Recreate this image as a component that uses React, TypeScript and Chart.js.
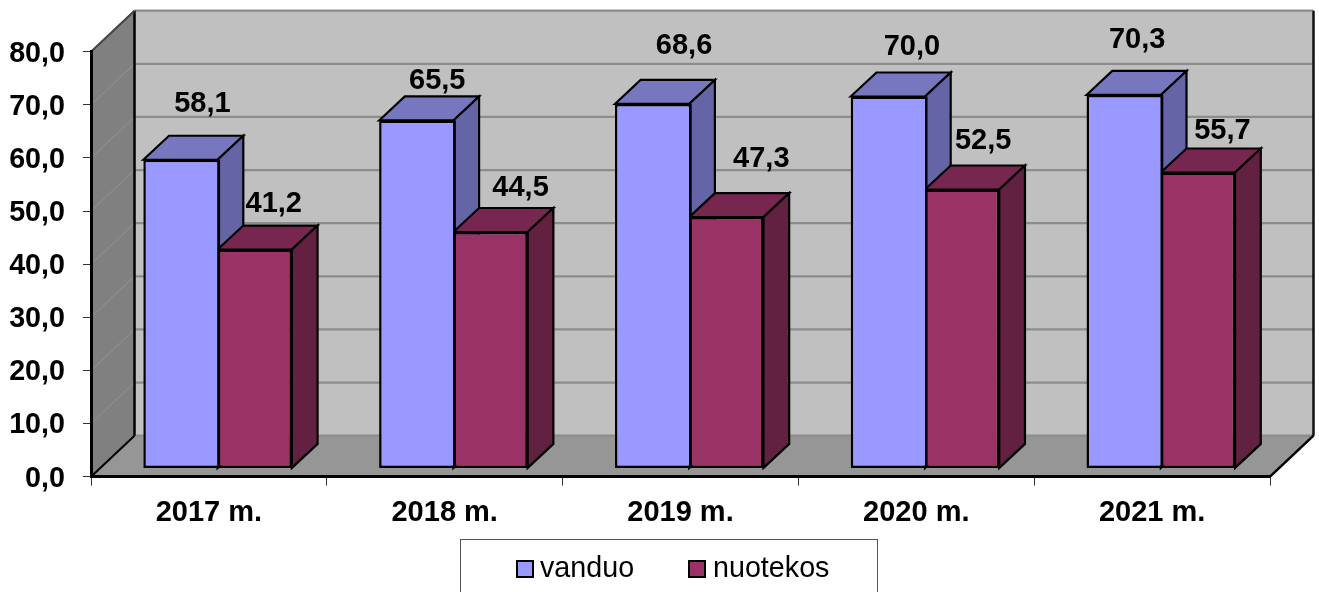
import React, { useEffect, useRef } from "react";
import { Chart, registerables } from "chart.js";

Chart.register(...registerables);

const categories = ["2017 m.", "2018 m.", "2019 m.", "2020 m.", "2021 m."];
const vanduo = [58.1, 65.5, 68.6, 70.0, 70.3];
const nuotekos = [41.2, 44.5, 47.3, 52.5, 55.7];
const seriesNames = ["vanduo", "nuotekos"];

// Hand placement of the value labels relative to the top of each bar's front face
const vanduoLabelShift = [[22, -56], [21, -39], [32, -58], [24, -50], [13.5, -55]];
const nuotekosLabelShift = [[19, -46], [30, -44], [35, -58], [21, -48], [24.5, -41]];

const FONT = '"Liberation Sans", Arial, sans-serif';
const WALL_DX = 43.5;
const WALL_DY = -41;
const BAR_SHIFT_X = 8.7;
const BAR_SHIFT_Y = -8.3;
const BAR_DX = 25.7;
const BAR_DY = -24;

const faceColors = [
  { front: "#9999FF", top: "#7777BF", side: "#6464A6" },
  { front: "#993366", top: "#77264F", side: "#632142" },
];

const fmt = (v: number) => v.toFixed(1).replace(".", ",");

function poly(ctx: CanvasRenderingContext2D, pts: number[][], fill?: string, stroke?: string, lw = 1) {
  ctx.beginPath();
  pts.forEach((p, i) => (i ? ctx.lineTo(p[0], p[1]) : ctx.moveTo(p[0], p[1])));
  if (fill) {
    ctx.closePath();
    ctx.fillStyle = fill;
    ctx.fill();
  }
  if (stroke) {
    ctx.strokeStyle = stroke;
    ctx.lineWidth = lw;
    ctx.lineJoin = "miter";
    ctx.stroke();
  }
}

function drawFaces(chart: any, index: number) {
  const { ctx } = chart;
  const colors = faceColors[index];
  for (const el of chart.getDatasetMeta(index).data) {
    const { x, y, base, width } = el.getProps(["x", "y", "base", "width"], true);
    const l = x - width / 2;
    const r = x + width / 2;
    poly(ctx, [[l, y], [l + BAR_DX, y + BAR_DY], [r + BAR_DX, y + BAR_DY], [r, y]], colors.top, "#000000", 2.2);
    poly(ctx, [[r, y], [r + BAR_DX, y + BAR_DY], [r + BAR_DX, base + BAR_DY], [r, base]], colors.side, "#000000", 2.2);
  }
}

const depthPlugin = {
  id: "depth",
  beforeDraw(chart: any) {
    const { ctx, chartArea: a, scales } = chart;
    const y = scales.y;
    const dx = WALL_DX;
    const dy = WALL_DY;
    ctx.save();
    ctx.fillStyle = "#ffffff";
    ctx.fillRect(0, 0, chart.width, chart.height);
    // back wall, side wall, floor
    poly(ctx, [[a.left + dx, a.top + dy], [a.right + dx, a.top + dy], [a.right + dx, a.bottom + dy], [a.left + dx, a.bottom + dy]], "#C0C0C0");
    poly(ctx, [[a.left, a.top], [a.left + dx, a.top + dy], [a.left + dx, a.bottom + dy], [a.left, a.bottom]], "#808080");
    poly(ctx, [[a.left, a.bottom], [a.left + dx, a.bottom + dy], [a.right + dx, a.bottom + dy], [a.right, a.bottom]], "#969696");
    // gridlines
    for (const t of y.ticks) {
      const p = y.getPixelForValue(t.value);
      if (t.value > 0) {
        poly(ctx, [[a.left, p], [a.left + dx, p + dy]], undefined, "#8B8B8B", 1.5);
      }
      poly(ctx, [[a.left + dx, p + dy], [a.right + dx, p + dy]], undefined, "#8C8C8C", 2.2);
    }
    // wall edges
    poly(ctx, [[a.left + dx, a.top + dy], [a.left + dx, a.bottom + dy]], undefined, "#000000", 2.5);
    poly(ctx, [[a.right + dx, a.top + dy], [a.right + dx, a.bottom + dy]], undefined, "#111111", 2.5);
    poly(ctx, [[a.left, a.top], [a.left + dx, a.top + dy]], undefined, "#444444", 2);
    poly(ctx, [[a.left, a.bottom], [a.left + dx, a.bottom + dy]], undefined, "#000000", 2);
    poly(ctx, [[a.right, a.bottom], [a.right + dx, a.bottom + dy]], undefined, "#000000", 2.5);
    ctx.restore();
  },
  // Chart.js paints the last dataset first: the second series goes down first,
  // with the first series' depth faces beneath it.
  beforeDatasetDraw(chart: any, args: any) {
    chart.ctx.save();
    chart.ctx.translate(BAR_SHIFT_X, BAR_SHIFT_Y);
    if (args.index === 1) drawFaces(chart, 0);
  },
  afterDatasetDraw(chart: any, args: any) {
    const { ctx } = chart;
    if (args.index === 1) drawFaces(chart, 1);
    if (args.index === 0) {
      for (const el of args.meta.data) {
        const { x, y, base, width } = el.getProps(["x", "y", "base", "width"], true);
        const r = x + width / 2 + 1.25;
        poly(ctx, [[r, y], [r, base]], undefined, "#000000", 2.5);
      }
    }
    ctx.restore();
  },
  afterDatasetsDraw(chart: any) {
    const { ctx } = chart;
    ctx.save();
    ctx.font = `bold 29px ${FONT}`;
    ctx.fillStyle = "#000000";
    ctx.textAlign = "center";
    ctx.textBaseline = "middle";
    const shifts = [vanduoLabelShift, nuotekosLabelShift];
    chart.data.datasets.forEach((ds: any, i: number) => {
      chart.getDatasetMeta(i).data.forEach((el: any, j: number) => {
        const { x, y } = el.getProps(["x", "y"], true);
        const [sx, sy] = shifts[i][j];
        ctx.fillText(fmt(ds.data[j]), x + BAR_SHIFT_X + sx, y + BAR_SHIFT_Y + sy);
      });
    });
    ctx.restore();
  },
  afterDraw(chart: any) {
    // legend panel, cut by the bottom edge of the picture
    const { ctx } = chart;
    ctx.save();
    ctx.strokeStyle = "#555555";
    ctx.lineWidth = 1;
    ctx.strokeRect(460.5, 539.5, 417, 60);
    ctx.font = `28.7px ${FONT}`;
    ctx.textBaseline = "middle";
    ctx.textAlign = "left";
    const swatchX = [517, 689];
    const textX = [540, 713];
    chart.data.datasets.forEach((ds: any, i: number) => {
      ctx.fillStyle = ds.backgroundColor;
      ctx.strokeStyle = "#000000";
      ctx.lineWidth = 2;
      ctx.fillRect(swatchX[i], 561, 16, 16);
      ctx.strokeRect(swatchX[i], 561, 16, 16);
      ctx.fillStyle = "#000000";
      ctx.fillText(ds.label, textX[i], 569);
    });
    ctx.restore();
  },
};

export default function App() {
  const ref = useRef<HTMLCanvasElement>(null);
  useEffect(() => {
    const chart = new Chart(ref.current as HTMLCanvasElement, {
      type: "bar",
      data: {
        labels: categories,
        datasets: [
          {
            label: seriesNames[0],
            data: vanduo,
            backgroundColor: faceColors[0].front,
            borderColor: "#000000",
            borderWidth: { top: 2.5, left: 2.5, bottom: 2.5, right: 0 },
            borderSkipped: false,
            clip: false,
          },
          {
            label: seriesNames[1],
            data: nuotekos,
            backgroundColor: faceColors[1].front,
            borderColor: "#000000",
            borderWidth: 2.5,
            borderSkipped: false,
            clip: false,
          },
        ] as any,
      },
      options: {
        responsive: false,
        animation: false,
        devicePixelRatio: 1,
        layout: { padding: { top: 51.7, right: 49, left: 0, bottom: 0 } },
        datasets: { bar: { categoryPercentage: 0.63, barPercentage: 1 } },
        plugins: { legend: { display: false }, tooltip: { enabled: false } },
        scales: {
          x: {
            afterFit: (s: any) => {
              s.height = 115.3;
            },
            border: { display: true, color: "#000000", width: 3 },
            grid: { drawOnChartArea: false, drawTicks: true, tickLength: 9, color: "#333333", lineWidth: 1 },
            ticks: {
              color: "#000000",
              padding: 10,
              maxRotation: 0,
              font: { family: FONT, size: 29, weight: "bold" },
            },
          },
          y: {
            min: 0,
            max: 80,
            afterFit: (s: any) => {
              s.width = 91;
            },
            border: { display: true, color: "#000000", width: 3 },
            grid: { drawOnChartArea: false, drawTicks: true, tickLength: 8, color: "#333333", lineWidth: 1 },
            ticks: {
              stepSize: 10,
              color: "#000000",
              padding: 18,
              labelOffset: 2,
              callback: (v: any) => fmt(Number(v)),
              font: { family: FONT, size: 28.7, weight: "bold" },
            },
          },
        },
      } as any,
      plugins: [depthPlugin],
    });
    return () => chart.destroy();
  }, []);
  return (
    <div style={{ position: "absolute", left: 0, top: 0, width: 1319, height: 592, overflow: "hidden", background: "#fff" }}>
      <canvas ref={ref} width={1319} height={592} style={{ display: "block" }} />
    </div>
  );
}
